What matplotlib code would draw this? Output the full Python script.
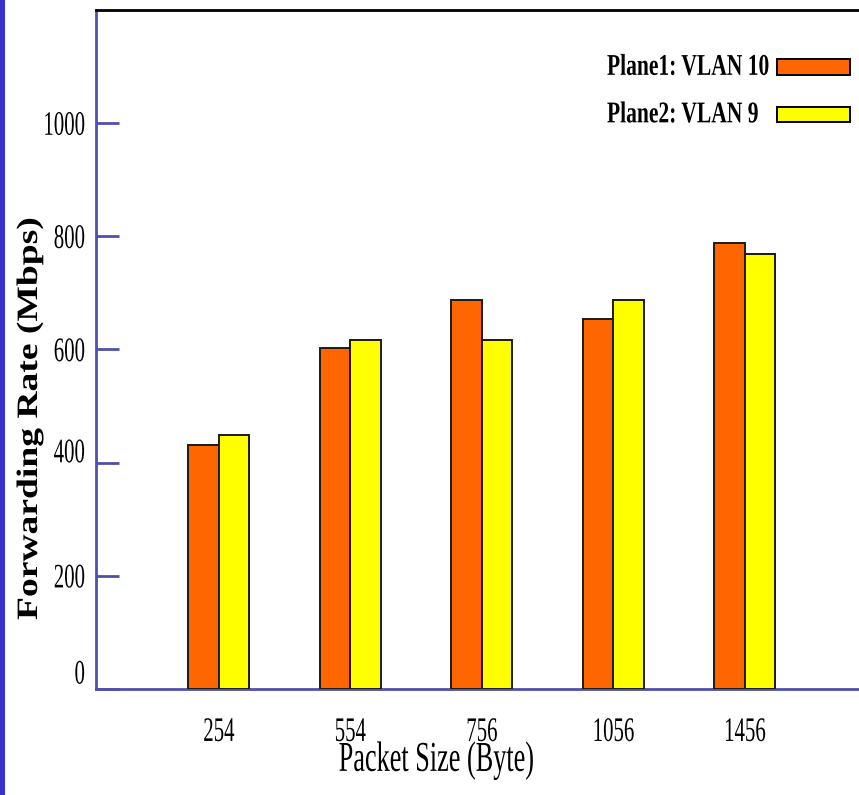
import numpy as np
import matplotlib
matplotlib.use("Agg")
import matplotlib.pyplot as plt
from matplotlib.patches import Rectangle
from matplotlib.patheffects import AbstractPathEffect
from matplotlib.transforms import Affine2D, ScaledTranslation

# data
packet_sizes = ["254", "554", "756", "1056", "1456"]
plane1_vlan10 = [431, 602, 687, 654, 788]
plane2_vlan9 = [449, 617, 617, 687, 769]
y_ticks = [0, 200, 400, 600, 800, 1000]

W, H = 859, 795
SERIF = "Liberation Serif"
BLUE = "#4f4fae"
ORANGE = "#ff6600"
YELLOW = "#ffff00"

# some y labels sit a bit above their tick in the original (pixels)
label_lift = {0: 17, 400: 12}


class Stretch(AbstractPathEffect):
    """Stretch glyphs in text frame (units: em = 100) around (cx, cy)."""

    def __init__(self, sx=1.0, sy=1.0, cx=0.0, cy=0.0):
        super().__init__()
        self.sx, self.sy, self.cx, self.cy = sx, sy, cx, cy

    def draw_path(self, renderer, gc, tpath, affine, rgbFace=None):
        t = (Affine2D().translate(-self.cx, -self.cy)
             .scale(self.sx, self.sy).translate(self.cx, self.cy))
        renderer.draw_path(gc, tpath, t + affine, rgbFace)


def fx(px):
    return px / W


def fy(py):
    return 1 - py / H


fig = plt.figure(figsize=(W / 100, H / 100), dpi=100)

# blue strip on the left edge
fig.patches.append(Rectangle((0, 0), fx(5), 1, transform=fig.transFigure,
                             facecolor="#3434cc", edgecolor="none"))

ax = fig.add_axes([fx(96), fy(689), fx(859 - 96), (689 - 10) / H])

x = np.arange(len(packet_sizes))
bw = 0.232
ax.bar(x - bw / 2, plane1_vlan10, bw, color=ORANGE, edgecolor="#1a1a1a", linewidth=1.4, zorder=3)
ax.bar(x + bw / 2, plane2_vlan9, bw, color=YELLOW, edgecolor="#1a1a1a", linewidth=1.4, zorder=3)

ax.set_xlim(-0.935, 4.867)
ax.set_ylim(0, 1200)

ax.spines["right"].set_visible(False)
ax.spines["top"].set_color("black")
ax.spines["top"].set_linewidth(2)
for s in ("left", "bottom"):
    ax.spines[s].set_color(BLUE)
    ax.spines[s].set_linewidth(2)

ax.set_yticks(y_ticks)
ax.set_yticklabels([str(v) for v in y_ticks], fontfamily=SERIF, fontsize=15)
ax.tick_params(axis="y", direction="in", length=16.5, width=2, color=BLUE, pad=8)
ax.set_xticks(x)
ax.set_xticklabels(packet_sizes, fontfamily=SERIF, fontsize=15)
ax.tick_params(axis="x", length=0, pad=24)

for lbl in ax.get_yticklabels() + ax.get_xticklabels():
    lbl.set_path_effects([Stretch(sy=1.65, cy=34)])

for v, lbl in zip(y_ticks, ax.get_yticklabels()):
    if v in label_lift:
        lbl.set_transform(lbl.get_transform() +
                          ScaledTranslation(0, label_lift[v] / 100, fig.dpi_scale_trans))

# axis labels
fig.text(fx(436.5), fy(765.5), "Packet Size (Byte)", fontfamily=SERIF, fontsize=18.9,
         ha="center", va="baseline", path_effects=[Stretch(sy=1.62, cy=33)])
fig.text(fx(37), fy(620), "Forwarding Rate (Mbps)", fontfamily=SERIF, fontsize=21.3,
         fontweight="bold", rotation=90, rotation_mode="anchor", ha="left", va="baseline",
         path_effects=[Stretch(sx=1.27)])

# legend (text left, key box right)
legend_rows = [("Plane1: VLAN 10", ORANGE, 72.0, 59, 75),
               ("Plane2: VLAN 9", YELLOW, 119.5, 107, 122)]
for label, color, base, top, bottom in legend_rows:
    fig.text(fx(607), fy(base), label, fontfamily=SERIF, fontsize=15.5, fontweight="bold",
             ha="left", va="baseline", path_effects=[Stretch(sy=1.4, cy=33)])
    fig.patches.append(Rectangle((fx(777), fy(bottom)), fx(850 - 777), (bottom - top) / H,
                                 transform=fig.transFigure, facecolor=color,
                                 edgecolor="black", linewidth=1.4))

fig.savefig("out.png", dpi=100)
